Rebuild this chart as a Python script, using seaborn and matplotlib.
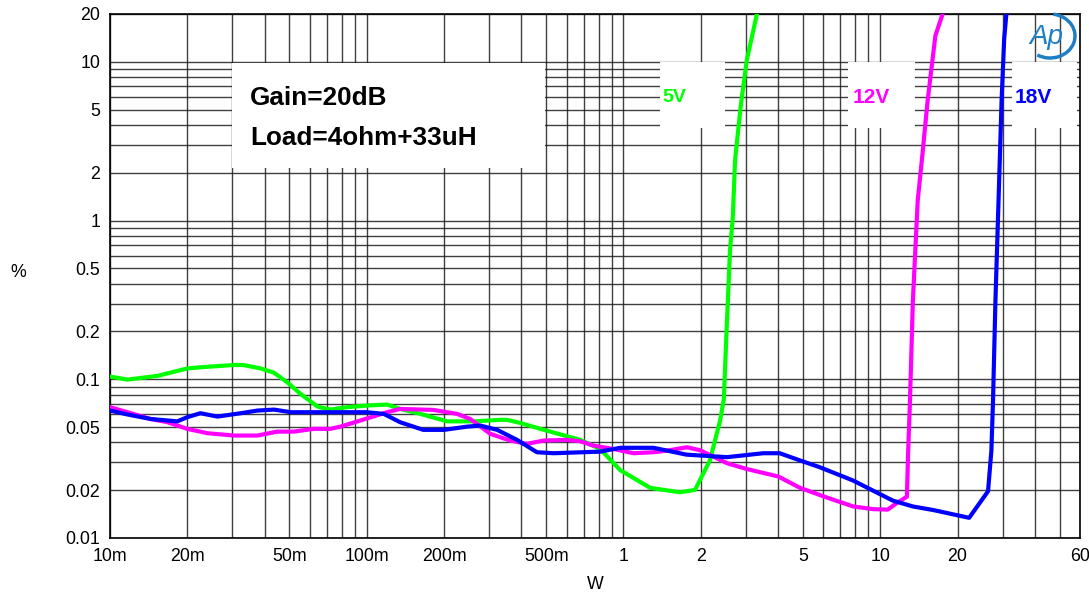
import numpy as np
import pandas as pd
import matplotlib
matplotlib.use("Agg")
import matplotlib.pyplot as plt
from matplotlib.ticker import FixedLocator, FixedFormatter, NullFormatter, LogLocator
from matplotlib.patches import Rectangle, Arc
import seaborn as sns

# ---------------- data ----------------
x_5v = [0.010, 0.0117, 0.0153, 0.020, 0.0225, 0.0304, 0.033, 0.0386, 0.0435, 0.049,
        0.0552, 0.0643, 0.0722, 0.0838, 0.100, 0.120, 0.135, 0.162, 0.2055, 0.261,
        0.331, 0.352, 0.396, 0.474, 0.679, 0.811, 0.97, 1.27, 1.66, 1.90, 2.17,
        2.38, 2.46, 2.52, 2.60, 2.666, 2.72, 2.86, 3.02, 3.31]
y_5v = [0.104, 0.0995, 0.105, 0.117, 0.119, 0.123, 0.123, 0.117, 0.110, 0.0957,
        0.0809, 0.0673, 0.0644, 0.0667, 0.0683, 0.0693, 0.065, 0.0605, 0.0543, 0.0543,
        0.0555, 0.0555, 0.0531, 0.0487, 0.0415, 0.0364, 0.0268, 0.0207, 0.0194, 0.0201, 0.0308,
        0.055, 0.0752, 0.20, 0.65, 1.05, 2.4, 5.2, 10.2, 20.0]

x_12v = [0.010, 0.0117, 0.0144, 0.0167, 0.020, 0.024, 0.0304, 0.0375, 0.0448, 0.052,
         0.0621, 0.0722, 0.079, 0.0945, 0.120, 0.135, 0.182, 0.225, 0.253, 0.303,
         0.362, 0.421, 0.489, 0.602, 0.678, 0.764, 0.914, 1.094, 1.31, 1.476, 1.766,
         1.99, 2.53, 3.02, 4.01, 4.87, 6.19, 7.85, 9.4, 10.7, 11.6, 12.7, 12.85,
         13.06, 13.4, 14.0, 14.6, 15.3, 16.4, 17.5]
y_12v = [0.0667, 0.062, 0.0562, 0.0537, 0.0487, 0.0457, 0.0442, 0.0442, 0.0468, 0.0468,
         0.0487, 0.0487, 0.0503, 0.055, 0.062, 0.065, 0.0641, 0.0605, 0.0562, 0.0453,
         0.0411, 0.0392, 0.0411, 0.0415, 0.0407, 0.0382, 0.0364, 0.0342, 0.0347, 0.0355, 0.0373,
         0.0357, 0.0296, 0.0272, 0.0244, 0.0207, 0.018, 0.0158, 0.0152, 0.0151, 0.0166, 0.0182, 0.0355,
         0.073, 0.31, 1.34, 2.6, 5.7, 14.6, 20.0]

x_18v = [0.010, 0.0117, 0.0144, 0.0183, 0.020, 0.0225, 0.0262, 0.0323, 0.0375, 0.0435,
         0.0506, 0.100, 0.1165, 0.135, 0.166, 0.200, 0.246, 0.277, 0.322, 0.385,
         0.46, 0.534, 0.812, 0.97, 1.31, 1.76, 2.05, 2.53, 3.5, 4.06, 4.87,
         5.82, 7.85, 9.66, 11.2, 13.4, 16.1, 22.2, 26.3, 27.1, 27.5, 28.1,
         28.9, 29.7, 30.4, 31.0]
y_18v = [0.0635, 0.060, 0.0562, 0.0543, 0.0577, 0.0611, 0.0582, 0.0611, 0.0635, 0.0644,
         0.062, 0.062, 0.0605, 0.0536, 0.048, 0.048, 0.0503, 0.0511, 0.048, 0.0415,
         0.0347, 0.0342, 0.035, 0.037, 0.037, 0.0335, 0.033, 0.0323, 0.0342, 0.0342, 0.0308,
         0.0279, 0.023, 0.0194, 0.0172, 0.0158, 0.015, 0.0134, 0.0197, 0.0355, 0.073, 0.31,
         1.34, 5.7, 14.0, 20.0]

series_names = ["5V", "12V", "18V"]
series_colors = ["#00ff00", "#ff00ff", "#0000ff"]

x_ticks = [0.01, 0.02, 0.05, 0.1, 0.2, 0.5, 1, 2, 5, 10, 20, 60]
x_tick_labels = ["10m", "20m", "50m", "100m", "200m", "500m", "1", "2", "5", "10", "20", "60"]
y_ticks = [0.01, 0.02, 0.05, 0.1, 0.2, 0.5, 1, 2, 5, 10, 20]
y_tick_labels = ["0.01", "0.02", "0.05", "0.1", "0.2", "0.5", "1", "2", "5", "10", "20"]

annot_lines = ["Gain=20dB", "Load=4ohm+33uH"]

# ---------------- build frame ----------------
frames = []
for name, xs, ys in zip(series_names, [x_5v, x_12v, x_18v], [y_5v, y_12v, y_18v]):
    frames.append(pd.DataFrame({"W": xs, "pct": ys, "series": name}))
df = pd.concat(frames, ignore_index=True)

# ---------------- figure ----------------
sns.set_theme(style="white")
plt.rcParams["font.family"] = ["Liberation Sans", "DejaVu Sans"]
plt.rcParams["text.color"] = "black"
plt.rcParams["axes.labelcolor"] = "black"

fig = plt.figure(figsize=(10.89, 5.94), dpi=100)
ax = fig.add_axes([110 / 1089, 1 - 538 / 594, 970 / 1089, 524 / 594])
ax.set_xscale("log")
ax.set_yscale("log")

# grid: every 1..9 multiple in each decade
ax.xaxis.set_major_locator(FixedLocator(x_ticks))
ax.xaxis.set_major_formatter(FixedFormatter(x_tick_labels))
ax.xaxis.set_minor_locator(LogLocator(base=10, subs=np.arange(1, 10), numticks=50))
ax.xaxis.set_minor_formatter(NullFormatter())
ax.yaxis.set_major_locator(FixedLocator(y_ticks))
ax.yaxis.set_major_formatter(FixedFormatter(y_tick_labels))
ax.yaxis.set_minor_locator(LogLocator(base=10, subs=np.arange(1, 10), numticks=50))
ax.yaxis.set_minor_formatter(NullFormatter())
ax.grid(which="both", color="#1e1e1e", linewidth=1.0, alpha=0.85, zorder=0)
ax.set_axisbelow(True)
ax.tick_params(which="both", length=0, labelsize=12.8, colors="black", pad=7)

for s in ax.spines.values():
    s.set_visible(True)
    s.set_color("black")
    s.set_linewidth(1.2)

# white boxes behind the annotations
boxes = [(0.1258, 0.706, 0.448 - 0.1258, 0.9065 - 0.706),
         (0.567, 0.782, 0.634 - 0.567, 0.908 - 0.782),
         (0.761, 0.782, 0.830 - 0.761, 0.908 - 0.782),
         (0.930, 0.782, 0.997 - 0.930, 0.908 - 0.782)]
for (bx, by, bw, bh) in boxes:
    ax.add_patch(Rectangle((bx, by), bw, bh, transform=ax.transAxes,
                           facecolor="white", edgecolor="none", zorder=1.5))

sns.lineplot(data=df, x="W", y="pct", hue="series", units="series", estimator=None,
             sort=False, palette=dict(zip(series_names, series_colors)),
             linewidth=3.0, legend=False, ax=ax, zorder=3)
ax.set_xlim(0.01, 60)
ax.set_ylim(0.01, 20)

ax.set_xlabel("W", fontsize=12.8, color="black")
ax.set_ylabel("%", fontsize=12.8, rotation=0, color="black", va="center", ha="center")
ax.xaxis.set_label_coords(0.5, -0.072)
ax.yaxis.set_label_coords(-0.095, 0.506)

# annotations
ax.text(0.1443, 0.84, annot_lines[0], transform=ax.transAxes, fontsize=18.8,
        fontweight="bold", va="center", ha="left", color="black", zorder=4)
ax.text(0.1443, 0.763, annot_lines[1], transform=ax.transAxes, fontsize=18.8,
        fontweight="bold", va="center", ha="left", color="black", zorder=4)
label_pos = [0.569, 0.766, 0.933]
label_sizes = [14, 15, 15]
for name, col, lx, fs in zip(series_names, series_colors, label_pos, label_sizes):
    ax.text(lx, 0.84, name, transform=ax.transAxes, fontsize=fs, fontweight="bold",
            color=col, va="center", ha="left", zorder=4)

# Ap logo
logo_col = "#1f7fc4"
fig.text(1046 / 1089, 1 - 37 / 594, "Ap", fontsize=20, fontstyle="italic",
         color=logo_col, ha="center", va="center", zorder=6)
fig.add_artist(Arc((1050 / 1089, 1 - 36 / 594), 50 / 1089, 44 / 594, angle=0,
                   theta1=-110, theta2=85, color=logo_col, linewidth=2.5,
                   transform=fig.transFigure, zorder=6))

fig.savefig("out.png", dpi=100, facecolor="white")
